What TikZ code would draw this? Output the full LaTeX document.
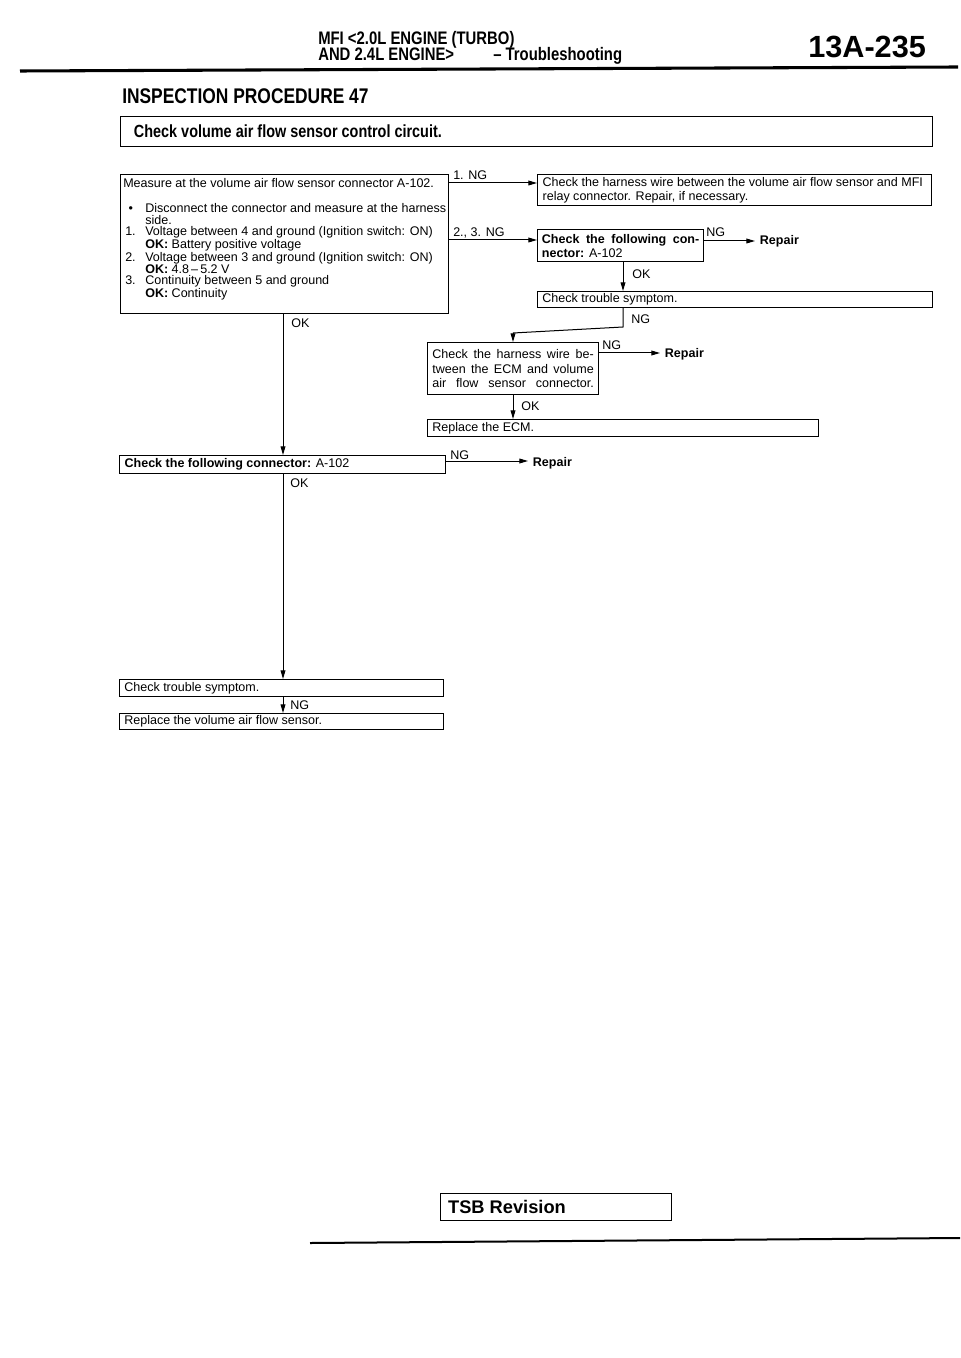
\documentclass[tikz,border=0pt]{standalone}
\usepackage{fontspec}
\setmainfont{Liberation Sans}
\newfontfamily\condfont[FakeStretch=0.82]{Liberation Sans}
\usetikzlibrary{arrows.meta}
\tikzset{
  box/.style={draw, line width=0.9pt, inner sep=0pt, anchor=north west, font=\fontsize{9.4}{9.4}\selectfont},
  arr/.style={line width=0.75pt, -{Triangle[length=6.5pt,width=3.6pt]}},
  ln/.style={line width=0.75pt},
  lbl/.style={inner sep=0pt, anchor=base west, font=\fontsize{9.4}{9.4}\selectfont},
  rep/.style={inner xsep=3.5pt, inner ysep=0pt, anchor=base west, font=\fontsize{9.4}{9.4}\selectfont\bfseries},
  hd/.style={inner sep=0pt, anchor=base west, font=\condfont\bfseries\fontsize{13.6}{13.6}\selectfont},
}
\begin{document}
\begin{tikzpicture}[x=0.75pt,y=-0.75pt]
\fill[white] (0,0) rectangle (960,1358);
\useasboundingbox (0,0) rectangle (960,1358);

% header
\node[hd] (h1) at (318,45) {MFI <2.0L ENGINE (TURBO)};
\node[hd] (h2) at (318,61) {AND 2.4L ENGINE>};
\node[hd] (h3) at (493,61) {– Troubleshooting};
\node[inner sep=0pt, anchor=base west, font=\bfseries\fontsize{23}{23}\selectfont] (pg) at (808,58) {13A-235};
\draw[line width=2.3pt] (20,71) -- (958,67);
\node[inner sep=0pt, anchor=base west, font=\condfont\bfseries\fontsize{15.9}{15.9}\selectfont] (ip) at (122,104) {INSPECTION PROCEDURE 47};

\node[box, minimum width=609pt, minimum height=22.5pt] (title) at (120,116)
  {\parbox{589pt}{\condfont\bfseries\fontsize{13.2}{13.2}\selectfont Check volume air flow sensor control circuit.}};

% box 1
\node[box, minimum width=246pt, minimum height=104.25pt] (b1) at (120,174)
  {\parbox[c][104.25pt][t]{242pt}{\fontsize{9.4}{8.7}\selectfont
   \mbox{\rule{0pt}{9.75pt}Measure at the volume air flow sensor connector A-102.}\\[10pt]
   \mbox{\makebox[16.5pt][l]{\hspace{4pt}\textbullet}Disconnect the connector and measure at the harness}\\
   \mbox{\hspace*{16.5pt}side.}\\
   \mbox{\makebox[16.5pt][l]{\hspace{1.5pt}1.}Voltage between 4 and ground (Ignition switch: ON)}\\
   \mbox{\hspace*{16.5pt}\textbf{OK:} Battery positive voltage}\\
   \mbox{\makebox[16.5pt][l]{\hspace{1.5pt}2.}Voltage between 3 and ground (Ignition switch: ON)}\\
   \mbox{\hspace*{16.5pt}\textbf{OK:} 4.8\,–\,5.2 V}\\
   \mbox{\makebox[16.5pt][l]{\hspace{1.5pt}3.}Continuity between 5 and ground}\\
   \mbox{\hspace*{16.5pt}\textbf{OK:} Continuity}}};

% right column
\node[box, minimum width=295.5pt, minimum height=23.25pt] (b2) at (537,174)
  {\parbox{288pt}{\fontsize{9.4}{10.8}\selectfont
   \mbox{Check the harness wire between the volume air flow sensor and MFI}\\
   relay connector. Repair, if necessary.}};
\node[box, minimum width=124.5pt, minimum height=24pt] (b3) at (537,229)
  {\parbox{118pt}{\fontsize{9.4}{10.5}\selectfont\bfseries
   \makebox[\linewidth][s]{Check the following con-}\\
   nector: \mdseries A-102}};
\node[box, minimum width=296.25pt, minimum height=12pt] (b4) at (537,291)
  {\parbox{289pt}{Check trouble symptom.}};
\node[box, minimum width=128.25pt, minimum height=39pt] (b5) at (427,342)
  {\parbox{121pt}{\fontsize{9.4}{11}\selectfont
   \makebox[\linewidth][s]{Check the harness wire be-}\\
   \makebox[\linewidth][s]{tween the ECM and volume}\\
   \makebox[\linewidth][s]{air flow sensor connector.}}};
\node[box, minimum width=293.25pt, minimum height=12.75pt] (b6) at (427,419)
  {\parbox{286pt}{Replace the ECM.}};

% left column
\node[box, minimum width=244.5pt, minimum height=13.5pt] (b7) at (119,455)
  {\parbox{237pt}{\textbf{Check the following connector:} A-102}};
\node[box, minimum width=243pt, minimum height=12.75pt] (b8) at (119,679)
  {\parbox{236pt}{Check trouble symptom.}};
\node[box, minimum width=243pt, minimum height=12pt] (b9) at (119,713)
  {\parbox{236pt}{Replace the volume air flow sensor.}};

% repair nodes
\node[rep] (r1) at (755,245) {Repair};
\node[rep] (r2) at (660,358) {Repair};
\node[rep] (r3) at (528,466) {Repair};

% helper coordinates
\coordinate (y1) at (0,183);
\coordinate (y2) at (0,240);
\coordinate (y3) at (0,241);
\coordinate (y5) at (0,353);
\coordinate (y7) at (0,461);
\coordinate (xa) at (283,0);
\coordinate (xb) at (623,0);
\coordinate (xc) at (513,0);
\coordinate (k1) at (623,327);
\coordinate (k2) at (513,333);

% connectors
\draw[arr] (b1.east |- y1) -- (b2.west |- y1);
\node[lbl] at (453,180) {1. NG};
\draw[arr] (b1.east |- y2) -- (b3.west |- y2);
\node[lbl] at (453,237) {2., 3. NG};
\draw[arr] (b3.east |- y3) -- (r1.west |- y3);
\node[lbl] at (706,237) {NG};
\draw[arr] (b3.south -| xb) -- (b4.north -| xb);
\node[lbl] at (632,279) {OK};
\draw[ln] (b4.south -| xb) -- (k1) -- (k2);
\draw[arr] (k2) -- (b5.north -| xc);
\node[lbl] at (631,324) {NG};
\draw[arr] (b5.east |- y5) -- (r2.west |- y5);
\node[lbl] at (602,350) {NG};
\draw[arr] (b5.south -| xc) -- (b6.north -| xc);
\node[lbl] at (521,410) {OK};
\draw[arr] (b1.south -| xa) -- (b7.north -| xa);
\node[lbl] at (291,328) {OK};
\draw[arr] (b7.east |- y7) -- (r3.west |- y7);
\node[lbl] at (450,459) {NG};
\draw[arr] (b7.south -| xa) -- (b8.north -| xa);
\node[lbl] at (290,487) {OK};
\draw[arr] (b8.south -| xa) -- (b9.north -| xa);
\node[lbl] at (290,709) {NG};

% footer
\node[box, minimum width=173.25pt, minimum height=20.25pt] (tsb) at (440,1193)
  {\parbox{162pt}{\bfseries\fontsize{13.7}{13.7}\selectfont TSB Revision}};
\draw[line width=1.5pt] (310,1243) -- (960,1238);
\end{tikzpicture}
\end{document}
